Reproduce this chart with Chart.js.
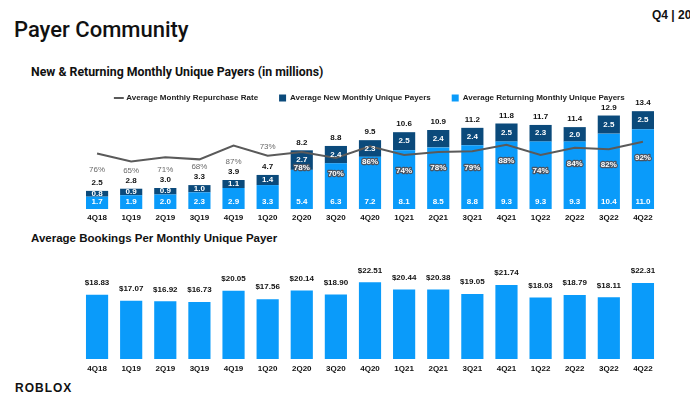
<!DOCTYPE html>
<html><head><meta charset="utf-8">
<script src="https://cdn.jsdelivr.net/npm/chart.js@4"></script>
<style>
html,body{margin:0;padding:0;width:690px;height:399px;overflow:hidden;background:#fff;}
.t{position:absolute;white-space:nowrap;color:#111;}
#w1{position:absolute;left:60px;top:73px;width:620px;height:150px;}
#w2{position:absolute;left:60px;top:250px;width:620px;height:124px;}
</style></head><body>
<div class="t" style="left:14px;top:17px;font:500 22px Roboto;">Payer Community</div>
<div class="t" style="left:652px;top:8px;font:bold 12px 'Liberation Sans';">Q4 | 2022</div>
<div class="t" style="left:31px;top:65px;font:bold 12.3px Roboto;">New &amp; Returning Monthly Unique Payers (in millions)</div>
<div class="t" style="left:31px;top:232px;font:bold 11.5px 'Liberation Sans';">Average Bookings Per Monthly Unique Payer</div>
<div class="t" style="left:15px;top:381px;font:bold 12px 'Liberation Sans';letter-spacing:1px;">ROBLOX</div>
<div id="w1"><canvas id="c1"></canvas></div>
<div id="w2"><canvas id="c2"></canvas></div>
<script>
const quarters = ['4Q18','1Q19','2Q19','3Q19','4Q19','1Q20','2Q20','3Q20','4Q20','1Q21','2Q21','3Q21','4Q21','1Q22','2Q22','3Q22','4Q22'];
const returningPayers = [1.7,1.9,2.0,2.3,2.9,3.3,5.4,6.3,7.2,8.1,8.5,8.8,9.3,9.3,9.3,10.4,11.0];
const newPayers = [0.8,0.9,0.9,1.0,1.1,1.4,2.7,2.4,2.3,2.5,2.4,2.4,2.5,2.3,2.0,2.5,2.5];
const totalPayers = [2.5,2.8,3.0,3.3,3.9,4.7,8.2,8.8,9.5,10.6,10.9,11.2,11.8,11.7,11.4,12.9,13.4];
const repurchaseRate = [76,65,71,68,87,73,78,70,86,74,78,79,88,74,84,82,92];
const bookingsPerPayer = [18.83,17.07,16.92,16.73,20.05,17.56,20.14,18.90,22.51,20.44,20.38,19.05,21.74,18.03,18.79,18.11,22.31];

const DARK = '#0b4a7b', LIGHT = '#0a9bfa', LINE = '#5a5a5a';
const FONT = 'Liberation Sans';
Chart.defaults.font.family = FONT;
Chart.defaults.animation = false;

const legendFit = {
  id: 'legendFit',
  beforeInit(chart) {
    const orig = chart.legend.fit;
    chart.legend.fit = function () { orig.call(this); this.height = 36; };
  }
};

const topLabels = {
  id: 'topLabels',
  afterDatasetsDraw(chart) {
    const ctx = chart.ctx;
    const mLine = chart.getDatasetMeta(0), mRet = chart.getDatasetMeta(1), mNew = chart.getDatasetMeta(2);
    ctx.save();
    ctx.textAlign = 'center';
    ctx.textBaseline = 'middle';
    quarters.forEach((q, i) => {
      const r = mRet.data[i], n = mNew.data[i], p = mLine.data[i];
      ctx.font = 'bold 8px ' + FONT;
      ctx.fillStyle = '#fff';
      ctx.fillText(returningPayers[i].toFixed(1), r.x, r.base - 7);
      ctx.fillText(newPayers[i].toFixed(1), n.x, (n.y + n.base) / 2);
      ctx.fillStyle = '#111';
      const totY = n.y - 8;
      ctx.fillText(totalPayers[i].toFixed(1), n.x, totY);
      const txt = repurchaseRate[i] + '%';
      if (p.y > n.y) {
        const y = p.y + 16;
        ctx.lineWidth = 2.5; ctx.strokeStyle = '#4a5563'; ctx.lineJoin = 'round';
        ctx.strokeText(txt, n.x, y);
        ctx.fillStyle = '#fff';
        ctx.fillText(txt, n.x, y);
      } else {
        let y = Math.min(p.y + 16, totY - 10);
        if (y < p.y + 6) y = p.y - 9;
        ctx.font = '8px ' + FONT;
        ctx.fillStyle = '#6a6a6a';
        ctx.fillText(txt, n.x, y);
      }
    });
    ctx.restore();
  }
};

new Chart(document.getElementById('c1'), {
  type: 'bar',
  data: {
    labels: quarters,
    datasets: [
      { type: 'line', label: 'Average Monthly Repurchase Rate', data: repurchaseRate, yAxisID: 'y2',
        borderColor: LINE, backgroundColor: LINE, borderWidth: 2, pointRadius: 0, pointStyle: 'line', tension: 0 },
      { label: 'Average Returning Monthly Unique Payers', data: returningPayers, backgroundColor: LIGHT,
        barPercentage: 0.65, categoryPercentage: 1, pointStyle: 'rect', stack: 's' },
      { label: 'Average New Monthly Unique Payers', data: newPayers, backgroundColor: DARK,
        barPercentage: 0.65, categoryPercentage: 1, pointStyle: 'rect', stack: 's' }
    ]
  },
  options: {
    responsive: true, maintainAspectRatio: false,
    layout: { padding: { left: 20, right: 20, top: 0, bottom: 0 }, autoPadding: false },
    scales: {
      x: { stacked: true, grid: { display: false, drawTicks: false }, border: { display: false },
           afterFit: (s) => { s.height = 14; },
           ticks: { padding: 4, color: '#111', maxRotation: 0, font: { size: 8, weight: 'bold' } } },
      y: { stacked: true, display: false, min: 0, max: 13.8 },
      y2: { display: false, min: 0, max: 137 }
    },
    plugins: {
      legend: {
        position: 'top',
        labels: {
          usePointStyle: true, boxWidth: 7, boxHeight: 7, padding: 21, color: '#222',
          font: { size: 8, weight: 'bold' },
          sort: (a, b) => [0, 2, 1][a.datasetIndex] - [0, 2, 1][b.datasetIndex]
        }
      },
      tooltip: { enabled: false }
    }
  },
  plugins: [legendFit, topLabels]
});

const bottomLabels = {
  id: 'bottomLabels',
  afterDatasetsDraw(chart) {
    const ctx = chart.ctx, m = chart.getDatasetMeta(0);
    ctx.save();
    ctx.textAlign = 'center'; ctx.textBaseline = 'middle';
    ctx.font = 'bold 8px ' + FONT; ctx.fillStyle = '#111';
    m.data.forEach((b, i) => ctx.fillText('$' + bookingsPerPayer[i].toFixed(2), b.x, b.y - 12));
    ctx.restore();
  }
};

new Chart(document.getElementById('c2'), {
  type: 'bar',
  data: {
    labels: quarters,
    datasets: [{ label: 'Average Bookings Per Monthly Unique Payer', data: bookingsPerPayer,
      backgroundColor: LIGHT, barPercentage: 0.65, categoryPercentage: 1 }]
  },
  options: {
    responsive: true, maintainAspectRatio: false,
    layout: { padding: { left: 20, right: 20, top: 0, bottom: 0 }, autoPadding: false },
    scales: {
      x: { grid: { display: false, drawTicks: false }, border: { display: false },
           afterFit: (s) => { s.height = 15; },
           ticks: { padding: 5, color: '#111', maxRotation: 0, font: { size: 8, weight: 'bold' } } },
      y: { display: false, min: 0, max: 32 }
    },
    plugins: { legend: { display: false }, tooltip: { enabled: false } }
  },
  plugins: [bottomLabels]
});
</script>
</body></html>
